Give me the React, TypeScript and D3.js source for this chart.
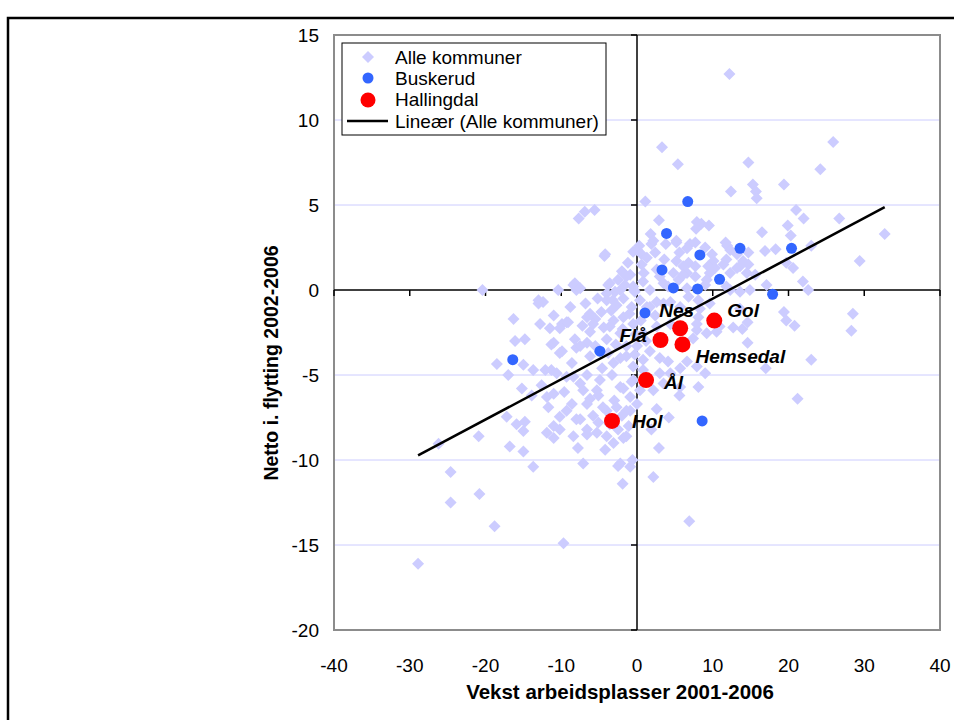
import React from "react";
import * as d3 from "d3";

const xTicks = [-40, -30, -20, -10, 0, 10, 20, 30, 40];
const yTicks = [-20, -15, -10, -5, 0, 5, 10, 15];
const xTitle = "Vekst arbeidsplasser 2001-2006";
const yTitle = "Netto i. flytting 2002-2006";
const legendLabels = ["Alle kommuner", "Buskerud", "Hallingdal", "Lineær (Alle kommuner)"];

const alleKommuner: [number, number][] = [
  [12.2,12.7],[3.3,8.4],[5.4,7.4],[14.7,7.5],[25.9,8.7],[24.2,7.1],[15.3,6.2],[15.7,5.8],[15.8,5.4],[12.4,5.8],
  [19.4,6.2],[1.1,5.2],[21.0,4.7],[22.0,4.2],[26.7,4.2],[32.7,3.3],[2.9,4.1],[1.8,3.3],[7.9,4.0],[8.5,3.9],
  [9.5,3.8],[7.8,3.6],[16.5,3.4],[19.9,3.8],[20.3,3.2],[23.0,2.6],[11.7,2.8],[11.9,2.6],[16.9,2.3],[18.3,2.4],
  [14.7,2.2],[29.4,1.7],[0.3,2.6],[-0.5,2.25],[1.9,2.7],[2.4,2.2],[3.8,2.7],[5.2,2.8],[5.6,2.2],[7.0,2.7],
  [7.7,2.8],[9.0,2.5],[11.8,1.8],[13.2,2.1],[3.6,1.8],[0.6,1.5],[6.1,1.4],[6.8,1.6],[10.1,1.7],[9.4,1.4],
  [14.0,1.7],[14.7,1.5],[19.7,1.6],[20.6,1.3],[4.8,1.0],[5.5,0.6],[6.6,1.0],[7.7,0.8],[9.6,1.0],[10.3,1.3],
  [12.3,1.0],[13.2,1.3],[14.5,1.0],[15.6,0.9],[0.8,0.5],[3.5,0.4],[9.0,0.3],[12.3,0.0],[14.9,0.0],[17.1,0.3],
  [21.9,0.5],[22.6,0.0],[-0.4,0.0],
  [-7.7,4.2],[-6.9,4.6],[-5.6,4.7],[-4.3,2.0],[-20.4,0.0],[-10.4,0.0],[-8.4,0.3],[-8.0,0.0],[-3.8,0.3],[-1.8,1.0],
  [-0.9,0.9],[-2.9,-0.1],[-1.6,0.3],[-0.3,-0.1],[-13.0,-0.6],
  [-4.2,2.1],[0.0,2.35],[0.6,2.1],[-2.0,1.1],[-1.4,0.8],[-3.6,0.4],[-8.2,0.4],[-7.5,0.1],[-4.0,-0.2],[-2.2,0.0],
  [-0.5,0.2],[-12.4,-0.7],[-11.0,-1.5],[-9.3,-1.9],[-11.5,-2.25],[-10.2,-2.25],[-6.2,-1.4],[-5.5,-1.7],[-4.7,-1.3],[-4.0,-0.6],
  [-2.7,-0.9],[-1.8,-0.5],[-0.7,-1.0],[-3.1,-1.8],[-1.8,-1.6],[-4.4,-2.2],[-6.2,-2.45],[-8.2,-2.9],[-4.0,-2.9],[-5.5,-3.3],
  [2.15,2.9],[5.2,2.9],[6.6,2.45],[1.3,1.9],[5.2,1.7],[7.7,1.4],[9.9,2.1],[11.4,1.5],[13.6,1.4],[12.3,2.35],
  [3.0,0.8],[6.1,0.9],[9.2,0.6],[1.7,0.0],[6.6,0.1],[11.8,0.2],[13.6,-0.1],[2.6,-0.7],[8.1,-0.6],[9.6,-0.8],
  [1.3,-1.0],[4.4,-0.7],[13.6,-1.1],[8.1,-1.6],[12.7,-2.2],[10.5,-2.45],[7.9,-2.35],
  [-11.3,-3.2],[-10.2,-3.7],[-8.0,-3.4],[-6.6,-3.1],[-3.8,-3.7],[-2.2,-4.0],[-1.4,-3.3],[-12.1,-4.7],[-10.6,-4.9],[-8.4,-5.1],
  [-6.6,-5.0],[-4.9,-5.3],[-3.3,-5.0],[-1.8,-5.8],[-0.7,-5.4],[-11.0,-6.1],[-8.6,-6.7],[-7.1,-5.9],[-6.2,-6.4],[-5.1,-6.2],
  [-11.7,-6.9],[-10.2,-7.45],[-8.0,-7.6],[-11.0,-8.0],[-6.6,-8.2],[-5.1,-7.8],[-2.5,-8.2],[-1.1,-8.0],[-1.8,-8.7],[-8.4,-8.6],
  [-4.0,-8.6],[-0.9,-7.1],
  [-13.0,-0.8],[-16.3,-1.7],[-9.9,-2.0],[-9.1,-1.9],[-16.1,-3.0],[-14.8,-2.9],[-11.0,-3.1],[-9.9,-3.6],[-18.5,-4.35],[-17.0,-5.0],
  [-15.0,-4.4],[-13.7,-4.7],[-11.3,-4.7],[-15.2,-5.8],[-13.9,-6.2],[-11.9,-6.3],[-17.2,-7.45],[-15.9,-7.9],[-14.8,-7.75],[-15.0,-8.3],
  [-20.9,-8.6],[-16.8,-9.2],[-15.0,-9.5],[-26.2,-9.05],[-11.9,-8.4],[-11.0,-8.7],[-10.2,-8.2],[-7.5,-7.6],[-6.6,-8.5],[-5.3,-8.4],
  [-3.1,-9.0],[-4.2,-9.4],[-1.4,-8.6],[-13.7,-10.4],[-2.2,-10.2],[-7.1,-10.2],
  [-6.6,-1.6],[-5.8,-2.0],[-3.6,-2.15],[-2.2,-2.55],[-7.5,-3.3],[-6.2,-3.9],[-3.1,-4.3],[-1.4,-3.9],[-9.3,-5.1],[-7.5,-5.5],
  [-5.3,-5.9],[-2.2,-5.7],[-0.9,-6.3],[-6.6,-6.7],[-1.4,-7.1],[-4.0,-7.1],[-9.3,-7.1],
  [-24.6,-10.7],[-2.5,-10.35],[-0.9,-10.4],[-0.6,-10.0],[-1.9,-11.4],[2.9,-9.3],[2.15,-11.0],[-24.6,-12.5],[-20.8,-12.0],[-18.8,-13.9],
  [-9.7,-14.9],[6.9,-13.6],[-28.9,-16.1],
  [28.5,-1.4],[28.3,-2.4],[19.4,-1.3],[19.7,-1.8],[20.8,-2.1],[14.6,-1.9],[13.9,-2.3],[14.6,-3.1],[23.0,-4.1],[17.0,-4.6],
  [21.2,-6.4],[9.0,-4.9],[8.1,-5.7],[5.6,-6.2],[2.6,-7.0],[4.2,-7.5],[10.9,-2.15],[9.2,-2.55],[4.1,-4.2],[5.7,-4.6],
  [6.6,-4.2],[3.0,-4.0],[0.8,-4.1],[0.0,-3.3],[1.7,-3.6],[4.4,-4.9],[3.0,-4.9],[0.4,-5.9],[2.15,-5.9],[0.0,-6.7],
  [-0.5,-2.0],[4.4,-2.0],[7.9,-2.0],[7.4,-2.85],[8.3,-1.1],
  [0.4,-0.6],[1.7,-1.0],[3.5,-0.8],[5.7,-1.0],[6.8,-0.4],[2.6,-2.15],[0.8,-2.55],[0.8,-4.7],[3.5,-5.5],[5.7,-5.7],
  [7.9,-4.5],[-0.5,-4.5],[-0.5,-5.3],
  [-1.0,-1.4],[-0.2,-2.6],[0.5,-1.8],[-2.8,-3.2],[-1.9,-2.3],[-3.4,-1.2],[-0.3,-3.8],[1.2,-3.0],[2.4,-1.5],[-2.5,0.6],
  [-1.2,1.6],[0.9,1.0],[2.6,1.2],[4.1,0.2],[-3.2,-0.6],[-5.2,-0.5],[-6.8,-0.8],[-7.2,-2.1],[-8.8,-1.0],[-3.0,-6.5],
  [-2.0,-7.4],[-4.5,-6.9],
  [-12.8,-2.0],[-8.6,-4.3],[-4.6,-4.6],[-2.7,-6.9],[-9.6,-6.0],[-5.8,-7.4],[-12.6,-5.6],[-7.8,-9.3],[-3.6,-7.9],[1.9,-8.2]
];

const buskerud: [number, number][] = [
  [6.7,5.2],[3.9,3.33],[8.3,2.06],[13.6,2.45],[20.4,2.45],[3.3,1.18],[10.9,0.63],[4.8,0.12],[8.0,0.06],[17.9,-0.25],
  [1.05,-1.35],[-4.9,-3.6],[-16.4,-4.1],[8.6,-7.7]
];

const hallingdalNames = ["Gol", "Nes", "Flå", "Hemsedal", "Ål", "Hol"];
const hallingdalX = [10.2, 5.7, 3.1, 6.0, 1.2, -3.3];
const hallingdalY = [-1.8, -2.25, -2.94, -3.2, -5.3, -7.7];

const trendSlope = 0.237;
const trendIntercept = -2.88;

// label offsets in pixels (style)
const labelOffsets: Record<string, [number, number]> = {
  Gol: [13, -4],
  Nes: [-21, -11],
  "Flå": [-41, 2],
  Hemsedal: [13, 19],
  "Ål": [18, 9],
  Hol: [20, 7],
};

export default function App() {
  const W = 954, H = 720;
  const x = d3.scaleLinear().domain([-40, 40]).range([334, 940]);
  const y = d3.scaleLinear().domain([-20, 15]).range([630, 35]);
  const font = "Arial, 'Liberation Sans', Helvetica, sans-serif";
  const diamond = d3.symbol().type(d3.symbolSquare).size(72)();

  const xExt = d3.extent(alleKommuner, (d) => d[0]) as [number, number];
  const trendLine = d3.line<number>()
    .x((v) => x(v))
    .y((v) => y(trendIntercept + trendSlope * v))(xExt);

  const gridVals = yTicks.filter((t) => t !== 0 && t !== 15 && t !== -20);

  return (
    <svg width={W} height={H} style={{ position: "absolute", left: 0, top: 0, background: "#fff" }} fontFamily={font}>
      <rect x={8} y={18} width={1000} height={800} fill="#fff" stroke="#000" strokeWidth={2.5} />
      {gridVals.map((t) => (
        <line key={"g" + t} x1={x(-40)} x2={x(40)} y1={y(t)} y2={y(t)} stroke="#ccccff" strokeWidth={1} />
      ))}
      <rect x={x(-40)} y={y(15)} width={x(40) - x(-40)} height={y(-20) - y(15)} fill="none" stroke="#8c8c8c" strokeWidth={2} />
      <line x1={x(-40)} x2={x(40)} y1={y(0)} y2={y(0)} stroke="#000" strokeWidth={1.5} />
      <line x1={x(0)} x2={x(0)} y1={y(15)} y2={y(-20)} stroke="#000" strokeWidth={1.5} />
      {xTicks.map((t) => (
        <line key={"xt" + t} x1={x(t)} x2={x(t)} y1={y(0)} y2={y(0) + 6} stroke="#000" strokeWidth={1.5} />
      ))}
      {yTicks.map((t) => (
        <line key={"yt" + t} x1={x(0) - 6} x2={x(0)} y1={y(t)} y2={y(t)} stroke="#000" strokeWidth={1.5} />
      ))}
      {xTicks.map((t) => (
        <text key={"xl" + t} x={x(t)} y={y(-20) + 35} textAnchor="middle" dy="0.35em" fontSize={19} fill="#000">{t}</text>
      ))}
      {yTicks.map((t) => (
        <text key={"yl" + t} x={319} y={y(t)} textAnchor="end" dy="0.35em" fontSize={19} fill="#000">{t}</text>
      ))}
      <text x={620} y={692} textAnchor="middle" dy="0.35em" fontSize={20.5} fontWeight="bold" fill="#000">{xTitle}</text>
      <text transform={`translate(271,363) rotate(-90)`} textAnchor="middle" dy="0.35em" fontSize={19.5} fontWeight="bold" fill="#000">{yTitle}</text>
      {alleKommuner.map((d, i) => (
        <path key={"a" + i} d={diamond} transform={`translate(${x(d[0])},${y(d[1])}) rotate(45)`} fill="#ccccff" />
      ))}
      <path d={trendLine || ""} stroke="#000" strokeWidth={2.5} fill="none" />
      {buskerud.map((d, i) => (
        <circle key={"b" + i} cx={x(d[0])} cy={y(d[1])} r={5.5} fill="#3366ff" />
      ))}
      {hallingdalNames.map((n, i) => (
        <circle key={"h" + i} cx={x(hallingdalX[i])} cy={y(hallingdalY[i])} r={8} fill="#ff0000" />
      ))}
      {hallingdalNames.map((n, i) => (
        <text key={"hl" + i} x={x(hallingdalX[i]) + labelOffsets[n][0]} y={y(hallingdalY[i]) + labelOffsets[n][1]}
          fontSize={19} fontWeight="bold" fontStyle="italic" fill="#000">{n}</text>
      ))}
      <rect x={342} y={43} width={264} height={92} fill="#fff" stroke="#000" strokeWidth={1} />
      <path d={diamond} transform="translate(368,57) rotate(45)" fill="#ccccff" />
      <circle cx={368} cy={78} r={5.5} fill="#3366ff" />
      <circle cx={368} cy={100} r={7.5} fill="#ff0000" />
      <line x1={347} x2={388} y1={121} y2={121} stroke="#000" strokeWidth={2.5} />
      {legendLabels.map((l, i) => (
        <text key={"ll" + i} x={395} y={57 + i * 21.4} dy="0.35em" fontSize={19} fill="#000">{l}</text>
      ))}
    </svg>
  );
}
